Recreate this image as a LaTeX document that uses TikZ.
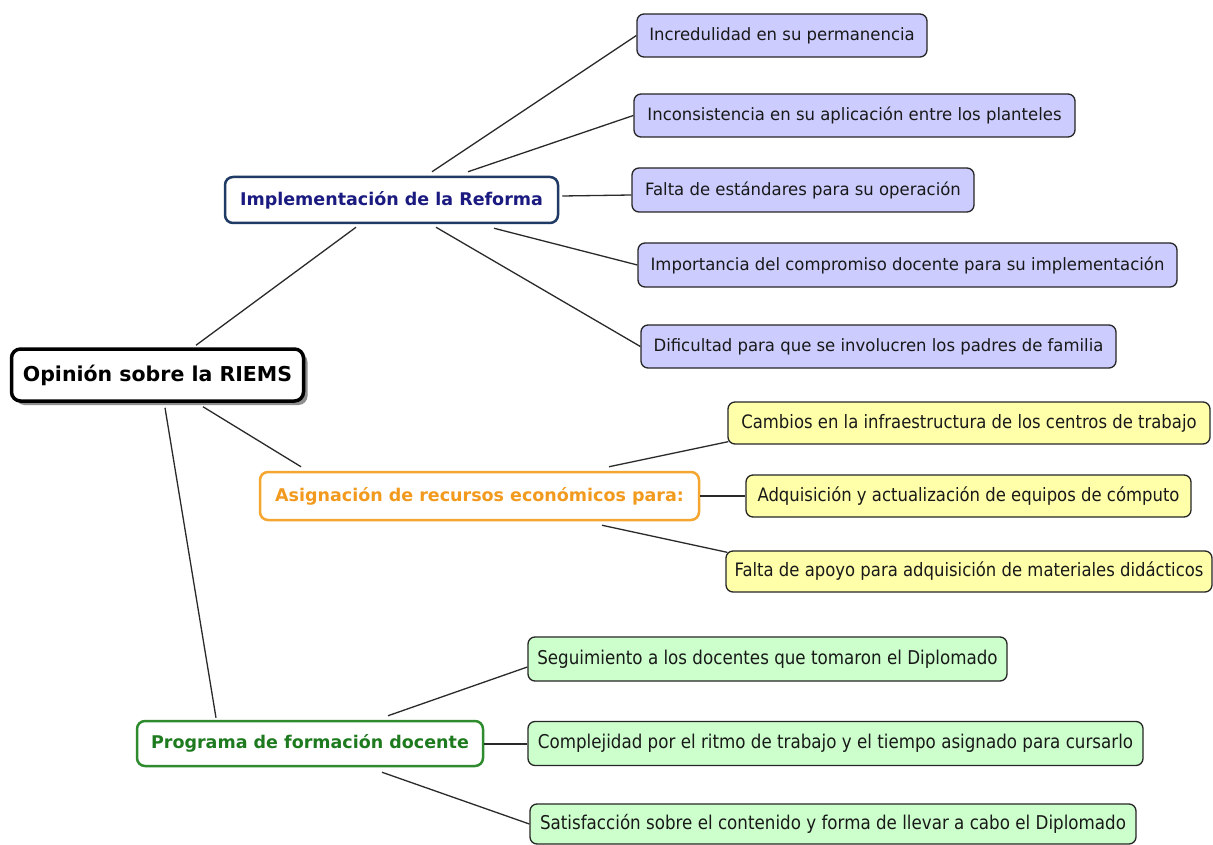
\documentclass[tikz,border=0pt]{standalone}
\usepackage{fontspec}
\setmainfont{DejaVu Sans}
\newfontfamily\leafAfont{DejaVu Sans}[FakeStretch=0.97]
\newfontfamily\leafBfont{DejaVu Sans}[FakeStretch=0.89]
\newfontfamily\leafCfont{DejaVu Sans}[FakeStretch=0.88]
\usetikzlibrary{shadows}
\definecolor{leafA}{HTML}{CCCCFF}
\definecolor{leafB}{HTML}{FFFFAA}
\definecolor{leafC}{HTML}{CCFFCC}
\definecolor{implB}{HTML}{1F3A64}
\definecolor{implT}{HTML}{1A1A80}
\definecolor{asigB}{HTML}{F4A630}
\definecolor{asigT}{HTML}{F29A1E}
\definecolor{progB}{HTML}{2E8B2E}
\definecolor{progT}{HTML}{1E7A1E}
\definecolor{lineC}{HTML}{2A2A2A}
\begin{document}
\begin{tikzpicture}[x=1pt,y=-1pt,
  leaf/.style={draw=black!85, line width=1.3pt, rounded corners=7pt, inner sep=0pt, text=black!90},
  leafa/.style={leaf, fill=leafA, font=\leafAfont\fontsize{17}{20}\selectfont},
  leafb/.style={leaf, fill=leafB, font=\leafBfont\fontsize{18.5}{22}\selectfont},
  leafc/.style={leaf, fill=leafC, font=\leafCfont\fontsize{19}{22}\selectfont},
  midbox/.style={line width=2.5pt, fill=white, rounded corners=8pt, inner sep=0pt,
    font=\fontsize{17.5}{21}\selectfont\bfseries},
  rootbox/.style={draw=black, line width=3.5pt, fill=white, rounded corners=9pt, inner sep=0pt,
    drop shadow={shadow xshift=4pt, shadow yshift=-4pt, fill=black!55, opacity=0.8},
    font=\fontsize{20.5}{24}\selectfont\bfseries},
  conn/.style={draw=lineC, line width=1.3pt},
  connthick/.style={draw=lineC, line width=2pt},
]
\useasboundingbox (0,0) rectangle (1213,845);
\fill[white] (0,0) rectangle (1213,845);

% root
\node[rootbox, minimum width=292pt, minimum height=52pt] (root) at (157.5,375) {Opinión sobre la RIEMS};

% level 1
\node[midbox, draw=implB, text=implT, minimum width=333pt, minimum height=46pt] (impl) at (391.5,200) {Implementación de la Reforma};
\node[midbox, draw=asigB, text=asigT, minimum width=439pt, minimum height=48pt] (asig) at (479.5,496) {Asignación de recursos económicos para:};
\node[midbox, draw=progB, text=progT, minimum width=346pt, minimum height=45pt] (prog) at (310,743.5) {Programa de formación docente};

% leaves A
\node[leafa, minimum width=290pt, minimum height=43pt] (l1) at (782,35.5) {Incredulidad en su permanencia};
\node[leafa, minimum width=441pt, minimum height=43pt] (l2) at (854.5,115.5) {Inconsistencia en su aplicación entre los planteles};
\node[leafa, minimum width=342pt, minimum height=44pt] (l3) at (803,190) {Falta de estándares para su operación};
\node[leafa, minimum width=539pt, minimum height=44pt] (l4) at (907.5,265) {Importancia del compromiso docente para su implementación};
\node[leafa, minimum width=475pt, minimum height=43pt] (l5) at (878.5,346.5) {Dificultad para que se involucren los padres de familia};

% leaves B
\node[leafb, minimum width=482pt, minimum height=42pt] (a1) at (969,423) {Cambios en la infraestructura de los centros de trabajo};
\node[leafb, minimum width=445pt, minimum height=42pt] (a2) at (968.5,496) {Adquisición y actualización de equipos de cómputo};
\node[leafb, minimum width=486pt, minimum height=41pt] (a3) at (969,571.5) {Falta de apoyo para adquisición de materiales didácticos};

% leaves C
\node[leafc, minimum width=479pt, minimum height=44pt] (p1) at (767.5,659) {Seguimiento a los docentes que tomaron el Diplomado};
\node[leafc, minimum width=615pt, minimum height=44pt] (p2) at (835.5,743.5) {Complejidad por el ritmo de trabajo y el tiempo asignado para cursarlo};
\node[leafc, minimum width=606pt, minimum height=40pt] (p3) at (833,824) {Satisfacción sobre el contenido y forma de llevar a cabo el Diplomado};

% connectors from root
\draw[conn] ([xshift=38.5pt,yshift=2pt]root.north) -- ([xshift=-35.5pt,yshift=-3pt]impl.south);
\draw[conn] ([xshift=45.5pt,yshift=-4pt]root.south) -- ([xshift=-178.5pt,yshift=4pt]asig.north);
\draw[conn] ([xshift=7.5pt,yshift=-5pt]root.south) -- ([xshift=-94pt,yshift=2pt]prog.north);

% connectors from impl
\draw[conn] ([xshift=40.5pt,yshift=4pt]impl.north) -- (l1.west);
\draw[conn] ([xshift=76.5pt,yshift=4pt]impl.north) -- (l2.west);
\draw[conn] ([xshift=3pt,yshift=4pt]impl.east) -- ([yshift=-5pt]l3.west);
\draw[conn] ([xshift=102.5pt,yshift=-4pt]impl.south) -- (l4.west);
\draw[conn] ([xshift=44.5pt,yshift=-3pt]impl.south) -- (l5.west);

% connectors from asig
\draw[conn] ([xshift=129.5pt,yshift=4pt]asig.north) -- ([xshift=1pt,yshift=3pt]a1.south west);
\draw[connthick] (asig.east) -- (a2.west);
\draw[conn] ([xshift=122.5pt,yshift=-4pt]asig.south) -- ([xshift=2pt,yshift=-2pt]a3.north west);

% connectors from prog
\draw[conn] ([xshift=78pt,yshift=4pt]prog.north) -- ([yshift=-8pt]p1.west);
\draw[connthick] (prog.east) -- (p2.west);
\draw[conn] ([xshift=72pt,yshift=-5pt]prog.south) -- (p3.west);
\end{tikzpicture}
\end{document}
